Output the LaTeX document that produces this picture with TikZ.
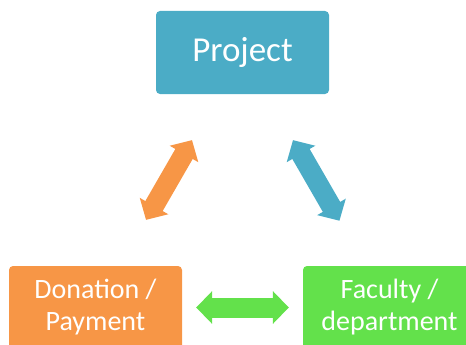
\documentclass[tikz,border=0pt]{standalone}
\usepackage{fontspec}
\setmainfont{Carlito}
\usetikzlibrary{arrows.meta}
\definecolor{cblue}{HTML}{4BACC6}
\definecolor{corange}{HTML}{F79646}
\definecolor{cgreen}{HTML}{63E14B}
\begin{document}
\begin{tikzpicture}[x=1pt,y=-1pt,
  box/.style={fill=#1, rounded corners=4pt, minimum width=173pt, minimum height=83pt,
    inner sep=0pt, text=white, align=center},
  link/.style={draw=#1, line width=20pt,
    {Triangle[length=16pt,width=32pt]}-{Triangle[length=16pt,width=32pt]}}]
\useasboundingbox (0,0) rectangle (466,345);
\node[box=cblue, font=\fontsize{35}{40}\selectfont] (proj) at (242.5,52.5) {Project};
\node[box=corange, font=\fontsize{28}{32}\selectfont] (don) at (95.5,307.5) {Donation /\\Payment};
\node[box=cgreen, font=\fontsize{28}{32}\selectfont] (fac) at (389.5,307.5) {Faculty /\\department};
\draw[link=corange, shorten >=53pt, shorten <=53pt] (proj) -- (don);
\draw[link=cblue, shorten >=52pt, shorten <=53pt] (proj) -- (fac);
\draw[link=cgreen, shorten >=14pt, shorten <=14pt] (don) -- (fac);
\end{tikzpicture}
\end{document}
